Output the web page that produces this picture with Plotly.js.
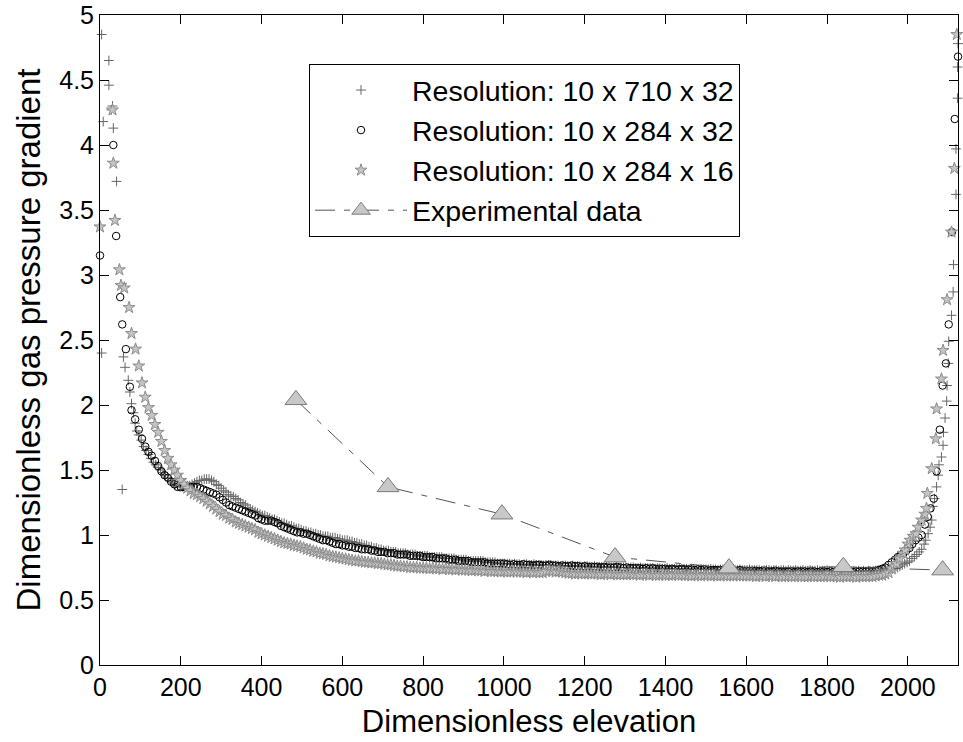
<!DOCTYPE html>
<html>
<head>
<meta charset="utf-8">
<script src="https://cdn.plot.ly/plotly-3.0.1.min.js"></script>
<style>html,body{margin:0;padding:0;background:#fff;}#chart{width:963px;height:742px;}</style>
</head>
<body>
<div id="chart"></div>
<script>
// ---------- Resolution 10 x 710 x 32 ("+") ----------
const fineWallLeftX = [4,8,22,22,28,31,33,41,4,55,58,62,70,74,78,83,87,91];
const fineWallLeftY = [4.85,4.18,4.65,4.46,4.27,4.30,4.13,3.72,2.40,1.35,2.37,2.29,2.19,2.10,2.01,1.94,1.86,1.80];
const fineGridX = [
96,102,108,114,120,126,132,138,144,150,
156,162,168,174,180,186,192,198,204,210,
216,222,228,234,240,246,252,258,264,270,
276,282,288,294,300,306,312,318,324,330,
336,342,348,354,360,366,372,378,384,390,
396,402,408,414,420,426,432,438,444,450,
456,462,468,474,480,486,492,498,504,510,
516,522,528,534,540,546,552,558,564,570,
576,582,588,594,600,606,612,618,624,630,
636,642,648,654,660,666,672,678,684,690,
696,702,708,714,720,726,732,738,744,750,
756,762,768,774,780,786,792,798,804,810,
816,822,828,834,840,846,852,858,864,870,
876,882,888,894,900,906,912,918,924,930,
936,942,948,954,960,966,972,978,984,990,
996,1002,1008,1014,1020,1026,1032,1038,1044,1050,
1056,1062,1068,1074,1080,1086,1092,1098,1104,1110,
1116,1122,1128,1134,1140,1146,1152,1158,1164,1170,
1176,1182,1188,1194,1200,1206,1212,1218,1224,1230,
1236,1242,1248,1254,1260,1266,1272,1278,1284,1290,
1296,1302,1308,1314,1320,1326,1332,1338,1344,1350,
1356,1362,1368,1374,1380,1386,1392,1398,1404,1410,
1416,1422,1428,1434,1440,1446,1452,1458,1464,1470,
1476,1482,1488,1494,1500,1506,1512,1518,1524,1530,
1536,1542,1548,1554,1560,1566,1572,1578,1584,1590,
1596,1602,1608,1614,1620,1626,1632,1638,1644,1650,
1656,1662,1668,1674,1680,1686,1692,1698,1704,1710,
1716,1722,1728,1734,1740,1746,1752,1758,1764,1770,
1776,1782,1788,1794,1800,1806,1812,1818,1824,1830,
1836,1842,1848,1854,1860,1866,1872,1878,1884,1890,
1896,1902,1908,1914,1920,1926,1932,1938,1944];
const fineGridY = [
1.77,1.73,1.68,1.65,1.62,1.59,1.56,1.54,1.52,1.50,
1.48,1.46,1.44,1.42,1.40,1.39,1.38,1.37,1.37,1.37,
1.38,1.38,1.39,1.40,1.41,1.42,1.42,1.43,1.43,1.43,
1.42,1.41,1.39,1.38,1.36,1.34,1.33,1.31,1.30,1.295,
1.28,1.27,1.25,1.24,1.23,1.21,1.20,1.19,1.18,1.17,
1.16,1.15,1.15,1.14,1.13,1.12,1.12,1.11,1.10,1.09,
1.09,1.08,1.07,1.07,1.06,1.05,1.05,1.04,1.03,1.03,
1.02,1.02,1.01,1.01,1.00,1.00,0.99,0.99,0.99,0.98,
0.98,0.98,0.97,0.97,0.96,0.96,0.96,0.95,0.95,0.94,
0.94,0.93,0.93,0.92,0.92,0.91,0.91,0.90,0.90,0.89,
0.89,0.88,0.88,0.88,0.87,0.87,0.87,0.86,0.86,0.86,
0.86,0.85,0.85,0.85,0.85,0.84,0.84,0.84,0.84,0.84,
0.83,0.83,0.83,0.83,0.83,0.83,0.82,0.82,0.82,0.82,
0.82,0.81,0.81,0.81,0.81,0.81,0.80,0.80,0.80,0.80,
0.80,0.80,0.80,0.79,0.79,0.79,0.79,0.79,0.78,0.78,
0.78,0.78,0.78,0.78,0.775,0.78,0.775,0.775,0.77,0.775,
0.775,0.77,0.77,0.775,0.77,0.77,0.77,0.765,0.77,0.77,
0.77,0.765,0.765,0.765,0.76,0.765,0.765,0.76,0.76,0.765,
0.76,0.76,0.76,0.755,0.76,0.76,0.755,0.755,0.76,0.755,
0.755,0.755,0.75,0.755,0.755,0.75,0.75,0.755,0.75,0.75,
0.75,0.75,0.745,0.75,0.75,0.745,0.745,0.75,0.745,0.745,
0.745,0.745,0.745,0.74,0.745,0.745,0.74,0.74,0.745,0.74,
0.74,0.74,0.74,0.74,0.735,0.74,0.74,0.735,0.74,0.74,
0.735,0.735,0.74,0.735,0.735,0.735,0.74,0.735,0.735,0.73,
0.735,0.735,0.73,0.735,0.73,0.735,0.73,0.73,0.735,0.73,
0.73,0.73,0.735,0.73,0.73,0.73,0.73,0.725,0.73,0.73,
0.73,0.725,0.73,0.73,0.725,0.73,0.73,0.725,0.73,0.725,
0.725,0.73,0.725,0.725,0.73,0.725,0.725,0.73,0.725,0.725,
0.73,0.725,0.725,0.725,0.73,0.725,0.725,0.72,0.725,0.725,
0.725,0.72,0.725,0.725,0.72,0.725,0.72,0.725,0.72,0.725,
0.72,0.725,0.72,0.725,0.725,0.73,0.725,0.73,0.73];
const fineWallRightX = [1950,1956,1962,1968,1974,1980,1986,1992,1998,2004,2010,2016,2022,2028,2034,2040,2044,2050,2055,2059,2062,2066,2071,2075,2077,2083,2087,2088,2092,2096,2097,2100,2101,2108,2112,2113,2119,2119,2123,2123,2124];
const fineWallRightY = [0.73,0.735,0.74,0.745,0.75,0.76,0.77,0.78,0.79,0.80,0.82,0.835,0.85,0.87,0.89,0.93,0.96,1.01,1.06,1.115,1.22,1.28,1.37,1.46,1.54,1.60,1.69,1.79,1.90,2.03,2.15,2.32,2.49,2.69,2.87,3.08,3.62,3.97,4.36,4.60,4.78];

// ---------- shared elevation grid of the 284-cell runs ----------
const coarseGridX = [
96,104,112,120,128,136,144,152,160,168,
176,184,192,200,208,216,224,232,240,248,
256,264,272,280,288,296,304,312,320,328,
336,344,352,360,368,376,384,392,400,408,
416,424,432,440,448,456,464,472,480,488,
496,504,512,520,528,536,544,552,560,568,
576,584,592,600,608,616,624,632,640,648,
656,664,672,680,688,696,704,712,720,728,
736,744,752,760,768,776,784,792,800,808,
816,824,832,840,848,856,864,872,880,888,
896,904,912,920,928,936,944,952,960,968,
976,984,992,1000,1008,1016,1024,1032,1040,1048,
1056,1064,1072,1080,1088,1096,1104,1112,1120,1128,
1136,1144,1152,1160,1168,1176,1184,1192,1200,1208,
1216,1224,1232,1240,1248,1256,1264,1272,1280,1288,
1296,1304,1312,1320,1328,1336,1344,1352,1360,1368,
1376,1384,1392,1400,1408,1416,1424,1432,1440,1448,
1456,1464,1472,1480,1488,1496,1504,1512,1520,1528,
1536,1544,1552,1560,1568,1576,1584,1592,1600,1608,
1616,1624,1632,1640,1648,1656,1664,1672,1680,1688,
1696,1704,1712,1720,1728,1736,1744,1752,1760,1768,
1776,1784,1792,1800,1808,1816,1824,1832,1840,1848,
1856,1864,1872,1880,1888,1896,1904,1912,1920,1928,
1936,1944,1952,1960];

// ---------- Resolution 10 x 284 x 32 (circles) ----------
const circWallLeftX = [0,33,40,50,55,64,74,78,87];
const circWallLeftY = [3.15,4.00,3.30,2.83,2.62,2.43,2.14,1.96,1.89];
const circGridY = [
1.81,1.74,1.68,1.64,1.61,1.57,1.53,1.49,1.46,1.44,
1.41,1.39,1.37,1.37,1.37,1.37,1.37,1.37,1.37,1.36,
1.35,1.34,1.33,1.32,1.31,1.29,1.27,1.25,1.23,1.22,
1.21,1.20,1.19,1.18,1.17,1.16,1.15,1.13,1.12,1.11,
1.11,1.11,1.10,1.09,1.07,1.06,1.05,1.04,1.03,1.02,
1.02,1.01,1.01,1.00,0.99,0.98,0.97,0.96,0.96,0.95,
0.94,0.93,0.93,0.92,0.92,0.91,0.91,0.90,0.90,0.89,
0.89,0.89,0.88,0.88,0.87,0.87,0.87,0.86,0.86,0.86,
0.85,0.85,0.85,0.85,0.84,0.84,0.84,0.84,0.83,0.83,
0.83,0.83,0.82,0.82,0.82,0.82,0.81,0.81,0.81,0.80,
0.80,0.80,0.80,0.79,0.79,0.79,0.79,0.79,0.78,0.78,
0.78,0.78,0.78,0.78,0.775,0.77,0.775,0.77,0.77,0.775,
0.77,0.77,0.765,0.77,0.77,0.765,0.765,0.77,0.765,0.765,
0.76,0.765,0.76,0.76,0.765,0.76,0.76,0.755,0.76,0.755,
0.755,0.755,0.755,0.75,0.755,0.75,0.75,0.75,0.755,0.75,
0.745,0.75,0.745,0.745,0.745,0.745,0.74,0.745,0.74,0.745,
0.74,0.74,0.74,0.74,0.735,0.74,0.735,0.735,0.74,0.735,
0.735,0.735,0.73,0.735,0.73,0.735,0.73,0.73,0.73,0.73,
0.73,0.725,0.73,0.73,0.725,0.725,0.73,0.725,0.725,0.725,
0.725,0.725,0.72,0.725,0.725,0.72,0.72,0.725,0.72,0.72,
0.72,0.72,0.72,0.715,0.72,0.72,0.72,0.715,0.72,0.72,
0.715,0.72,0.72,0.715,0.72,0.715,0.72,0.72,0.715,0.72,
0.72,0.715,0.72,0.72,0.72,0.72,0.725,0.72,0.725,0.73,
0.74,0.75,0.77,0.79];
const circWallRightX = [1968,1975,1982,1989,1996,2004,2011,2019,2026,2034,2042,2049,2056,2064,2071,2079,2086,2094,2101,2109,2116,2124];
const circWallRightY = [0.81,0.83,0.845,0.86,0.88,0.90,0.93,0.96,0.98,1.00,1.08,1.14,1.205,1.28,1.49,1.81,2.15,2.32,2.62,3.33,4.20,4.68];

// ---------- Resolution 10 x 284 x 16 (stars) ----------
const starWallLeftX = [0,31,33,37,48,52,60,72,78,88];
const starWallLeftY = [3.37,4.27,3.86,3.42,3.04,2.92,2.90,2.75,2.55,2.43];
const starGridY = [
2.30,2.17,2.06,1.98,1.92,1.85,1.79,1.72,1.65,1.59,
1.54,1.50,1.46,1.42,1.39,1.36,1.34,1.32,1.31,1.295,
1.28,1.26,1.24,1.22,1.20,1.18,1.16,1.15,1.13,1.12,
1.10,1.09,1.08,1.07,1.06,1.05,1.04,1.02,1.01,1.00,
0.99,0.98,0.97,0.96,0.95,0.94,0.935,0.93,0.92,0.915,
0.91,0.90,0.89,0.885,0.875,0.87,0.86,0.855,0.85,0.84,
0.835,0.83,0.825,0.82,0.815,0.81,0.805,0.80,0.80,0.795,
0.79,0.79,0.785,0.785,0.78,0.78,0.775,0.77,0.77,0.765,
0.76,0.76,0.755,0.755,0.75,0.75,0.75,0.745,0.745,0.745,
0.74,0.745,0.74,0.74,0.735,0.74,0.735,0.735,0.73,0.735,
0.73,0.73,0.73,0.725,0.73,0.725,0.725,0.72,0.725,0.72,
0.72,0.72,0.715,0.72,0.715,0.715,0.72,0.715,0.715,0.715,
0.71,0.715,0.71,0.715,0.71,0.71,0.72,0.725,0.72,0.715,
0.72,0.715,0.71,0.705,0.705,0.70,0.705,0.70,0.70,0.705,
0.70,0.70,0.70,0.695,0.70,0.70,0.695,0.70,0.695,0.695,
0.695,0.695,0.70,0.695,0.695,0.69,0.695,0.695,0.69,0.695,
0.69,0.69,0.695,0.69,0.69,0.69,0.695,0.69,0.69,0.69,
0.69,0.685,0.69,0.69,0.685,0.69,0.69,0.685,0.69,0.685,
0.685,0.69,0.685,0.685,0.685,0.69,0.685,0.685,0.685,0.685,
0.685,0.68,0.685,0.685,0.68,0.685,0.685,0.68,0.685,0.68,
0.68,0.685,0.68,0.68,0.685,0.68,0.68,0.68,0.685,0.68,
0.68,0.68,0.68,0.685,0.68,0.68,0.68,0.675,0.68,0.68,
0.68,0.68,0.675,0.68,0.68,0.68,0.68,0.68,0.685,0.69,
0.69,0.70,0.71,0.74];
const starWallRightX = [1966,1972,1980,1988,1993,2000,2005,2013,2020,2025,2034,2042,2046,2048,2059,2069,2071,2083,2087,2097,2108,2115,2121];
const starWallRightY = [0.76,0.78,0.82,0.86,0.885,0.93,0.96,0.99,1.01,1.06,1.115,1.16,1.205,1.32,1.51,1.74,1.97,2.20,2.42,2.81,3.33,3.82,4.85];

// ---------- Experimental data ----------
const expX = [485,713,995,1275,1557,1840,2086];
const expY = [2.04,1.37,1.16,0.83,0.745,0.755,0.73];

const seriesNames = ['Resolution: 10 x 710 x 32','Resolution: 10 x 284 x 32','Resolution: 10 x 284 x 16','Experimental data'];
const xTitle = 'Dimensionless elevation';
const yTitle = 'Dimensionless gas pressure gradient';

const FONT = 'Liberation Sans, Arial, Helvetica, sans-serif';

const traces = [
  {
    type:'scatter', mode:'markers', name:seriesNames[0], cliponaxis:false,
    x: fineWallLeftX.concat(fineGridX, fineWallRightX),
    y: fineWallLeftY.concat(fineGridY, fineWallRightY),
    marker:{symbol:'cross-thin-open', size:7, color:'#666666', line:{color:'#666666', width:1}}
  },
  {
    type:'scatter', mode:'markers', name:seriesNames[1], cliponaxis:false,
    x: circWallLeftX.concat(coarseGridX, circWallRightX),
    y: circWallLeftY.concat(circGridY, circWallRightY),
    marker:{symbol:'circle-open', size:7.5, color:'#000000', line:{color:'#000000', width:1}}
  },
  {
    type:'scatter', mode:'markers', name:seriesNames[2], cliponaxis:false,
    x: starWallLeftX.concat(coarseGridX, starWallRightX),
    y: starWallLeftY.concat(starGridY, starWallRightY),
    marker:{symbol:'star', size:9, color:'#c4c4c4', line:{color:'#8c8c8c', width:1}}
  },
  {
    type:'scatter', mode:'lines+markers', name:seriesNames[3], cliponaxis:false,
    x: expX, y: expY,
    line:{color:'#555555', width:1, dash:'20px,9px,6px,9px'},
    marker:{symbol:'triangle-up', size:19, color:'#c8c8c8', line:{color:'#7a7a7a', width:1}}
  }
];

const axisCommon = {
  showline:true, linecolor:'#000', linewidth:1, mirror:'ticks',
  ticks:'inside', ticklen:9, tickwidth:1, tickcolor:'#000',
  showgrid:false, zeroline:false,
  tickfont:{family:FONT, size:25, color:'#000'}
};

const layout = {
  width:963, height:742,
  margin:{l:100, r:5, t:15, b:77, pad:0},
  paper_bgcolor:'#fff', plot_bgcolor:'#fff',
  font:{family:FONT, color:'#000'},
  showlegend:true,
  xaxis: Object.assign({}, axisCommon, {
    range:[0,2124], tick0:0, dtick:200,
    title:{text:xTitle, font:{family:FONT, size:31, color:'#000'}, standoff:10}
  }),
  yaxis: Object.assign({}, axisCommon, {
    range:[0,5], tick0:0, dtick:0.5,
    title:{text:yTitle, font:{family:FONT, size:33, color:'#000'}, standoff:8}
  }),
  legend:{
    x:0.2436, y:0.9246, xanchor:'left', yanchor:'top',
    bgcolor:'#fff', bordercolor:'#000', borderwidth:1,
    font:{family:FONT, size:28.5, color:'#000'},
    itemwidth:92, tracegroupgap:0, itemsizing:'trace'
  }
};

Plotly.newPlot('chart', traces, layout, {displayModeBar:false, staticPlot:true});
</script>
</body>
</html>
